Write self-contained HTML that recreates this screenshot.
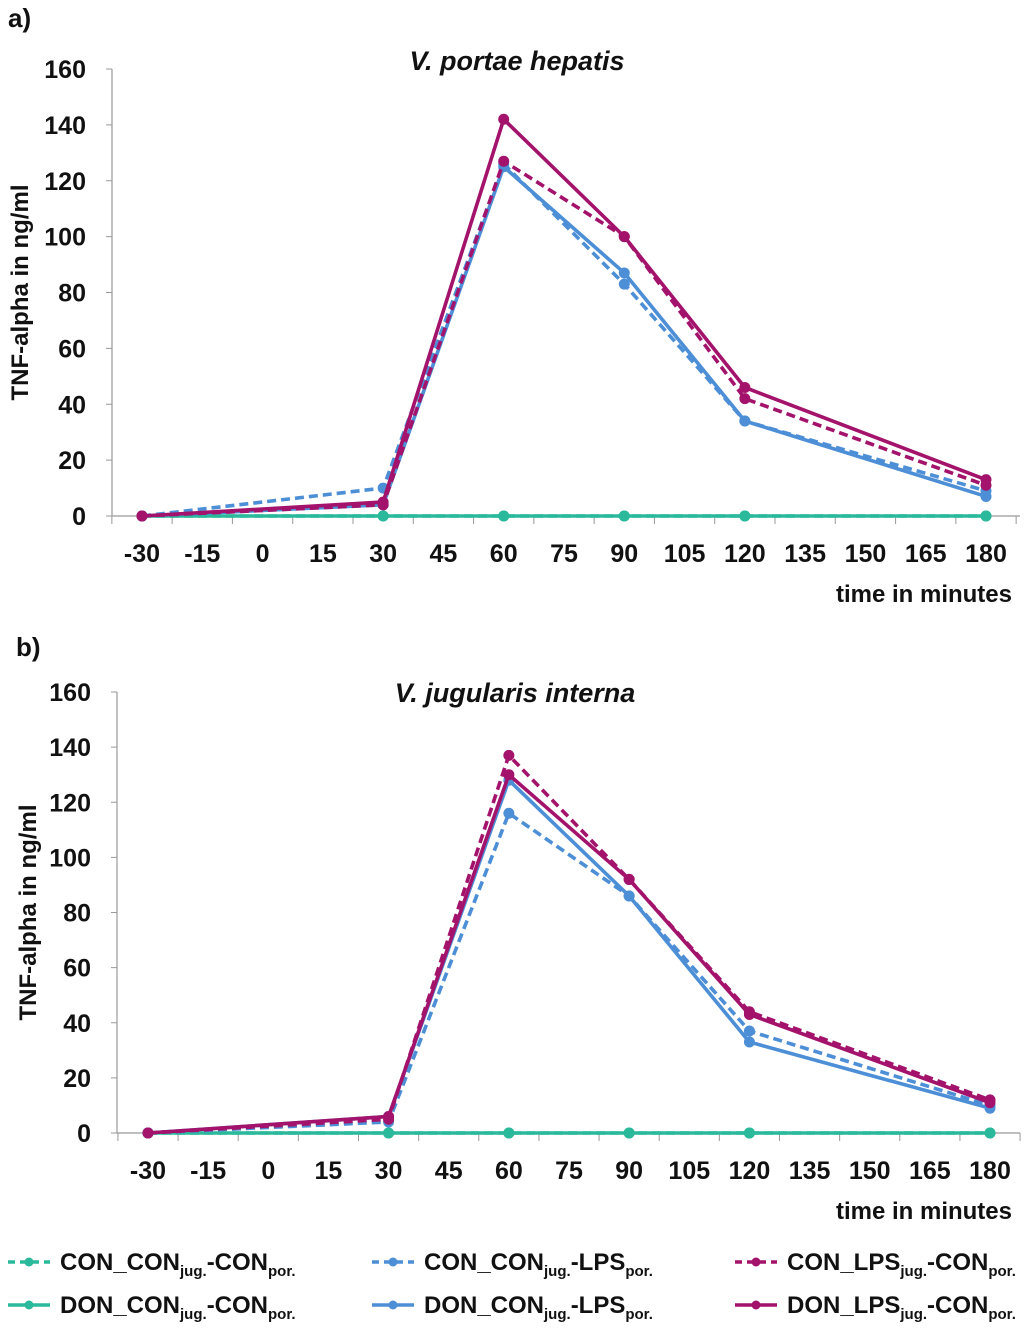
<!DOCTYPE html>
<html><head><meta charset="utf-8"><style>
html,body{margin:0;padding:0;background:#fff;}
svg{display:block;font-family:"Liberation Sans Narrow","Liberation Sans",sans-serif;}
</style></head><body>
<svg id="s" width="1024" height="1329" viewBox="0 0 1024 1329">
<text x="8" y="27" font-size="26" font-weight="bold" fill="#111">a)</text>
<text x="16" y="656" font-size="26" font-weight="bold" fill="#111">b)</text>
</svg>
<script>
const categories=[-30,-15,0,15,30,45,60,75,90,105,120,135,150,165,180];
const times=[-30,30,60,90,120,180];
const yTicks=[0,20,40,60,80,100,120,140,160];
const seriesNames=["CON_CON_CON","DON_CON_CON","CON_CON_LPS","DON_CON_LPS","CON_LPS_CON","DON_LPS_CON"];
const a_CON_CON_CON=[0,0,0,0,0,0];
const a_DON_CON_CON=[0,0,0,0,0,0];
const a_CON_CON_LPS=[0,10,126,83,34,9];
const a_DON_CON_LPS=[0,4,125,87,34,7];
const a_CON_LPS_CON=[0,4,127,100,42,11];
const a_DON_LPS_CON=[0,5,142,100,46,13];
const b_CON_CON_CON=[0,0,0,0,0,0];
const b_DON_CON_CON=[0,0,0,0,0,0];
const b_CON_CON_LPS=[0,4,116,86,37,10];
const b_DON_CON_LPS=[0,6,128,86,33,9];
const b_CON_LPS_CON=[0,5,137,92,44,12];
const b_DON_LPS_CON=[0,6,130,92,43,11];

const NS="http://www.w3.org/2000/svg";
const svg=document.getElementById('s');
const styles={CON_CON_CON:{c:"#2bb99b",d:true},DON_CON_CON:{c:"#2bb99b",d:false},CON_CON_LPS:{c:"#4d8fd6",d:true},DON_CON_LPS:{c:"#4d8fd6",d:false},CON_LPS_CON:{c:"#a3136c",d:true},DON_LPS_CON:{c:"#a3136c",d:false}};
function mk(tag,attrs,parent){const e=document.createElementNS(NS,tag);for(const k in attrs)e.setAttribute(k,attrs[k]);(parent||svg).appendChild(e);return e;}

function chart(p){
  const g=mk('g',{});
  
  
  const x0=p.axX, xEnd=p.xEnd;
  const step=(p.lastX-p.firstX)/14;
  const xs=v=>p.firstX+(categories.indexOf(v))*step;
  const ys=v=>p.y0-(v/160)*(p.y0-p.y160);
  let t=mk('text',{x:p.titleX,y:p.titleY,'font-size':27,'font-weight':'bold','font-style':'italic','text-anchor':'middle',fill:'#111'},g);
  t.textContent=p.title;
  
  
  let ax=mk('line',{x1:x0,y1:p.y160,x2:x0,y2:p.y0,stroke:'#999','stroke-width':1.2},g);
  
  
  yTicks.forEach(v=>{
    mk('line',{x1:x0-6,x2:x0,y1:ys(v),y2:ys(v),stroke:'#999'},g);
    const tx=mk('text',{x:x0-26,y:ys(v)+9,'font-size':25,'font-weight':'bold','text-anchor':'end',fill:'#111'},g);
    tx.textContent=v;
    
    
  });
  let xa=mk('line',{x1:x0,y1:p.y0,x2:xEnd,y2:p.y0,stroke:'#999','stroke-width':1.2},g);
  
  
  for(let i=0;i<=15;i++){const xx=p.firstX+(i-0.5)*step;mk('line',{x1:xx,x2:xx,y1:p.y0,y2:p.y0+8,stroke:'#999'},g);}
  categories.forEach(v=>{
    const tx=mk('text',{x:xs(v),y:p.y0+46,'font-size':25,'font-weight':'bold','text-anchor':'middle',fill:'#111'},g);
    tx.textContent=v;
    
    
  });
  let xt=mk('text',{x:1012,y:p.y0+86,'font-size':24,'font-weight':'bold','text-anchor':'end',fill:'#111'},g);
  xt.textContent='time in minutes';
  
  
  let yt=mk('text',{x:0,y:0,'font-size':24,'font-weight':'bold','text-anchor':'middle',fill:'#111',transform:`translate(${p.yTitleX},${(p.y0+p.y160)/2}) rotate(-90)`,'font-family':'"Liberation Sans",sans-serif'},g);
  yt.textContent='TNF-alpha in ng/ml';
  
  
  seriesNames.forEach(n=>{
    const vals=p.data[n], st=styles[n];
    const sg=mk('g',{},g);
    
    
    const pts=times.map((tm,i)=>xs(tm)+','+ys(vals[i])).join(' ');
    mk('polyline',{points:pts,fill:'none',stroke:st.c,'stroke-width':3.6,'stroke-dasharray':st.d?'9,5':'none','stroke-linejoin':'round'},sg);
    times.forEach((tm,i)=>{const c=mk('circle',{cx:xs(tm),cy:ys(vals[i]),r:5.5,fill:st.c},sg);
      
      });
  });
}
const A={CON_CON_CON:a_CON_CON_CON,DON_CON_CON:a_DON_CON_CON,CON_CON_LPS:a_CON_CON_LPS,DON_CON_LPS:a_DON_CON_LPS,CON_LPS_CON:a_CON_LPS_CON,DON_LPS_CON:a_DON_LPS_CON};
const B={CON_CON_CON:b_CON_CON_CON,DON_CON_CON:b_DON_CON_CON,CON_CON_LPS:b_CON_CON_LPS,DON_CON_LPS:b_DON_CON_LPS,CON_LPS_CON:b_CON_LPS_CON,DON_LPS_CON:b_DON_LPS_CON};
chart({name:'chart-portae-hepatis',title:'V. portae hepatis',titleX:517,titleY:70,axX:112,xEnd:1020,firstX:142,lastX:986,y0:516,y160:69,yTitleX:28,data:A});
chart({name:'chart-jugularis-interna',title:'V. jugularis interna',titleX:515,titleY:702,axX:117,xEnd:1020,firstX:148,lastX:990,y0:1133,y160:692,yTitleX:36,data:B});

const legend=[["CON_CON_CON","CON_CON","jug.","-CON","por.",8,1262],["CON_CON_LPS","CON_CON","jug.","-LPS","por.",372,1262],["CON_LPS_CON","CON_LPS","jug.","-CON","por.",735,1262],
["DON_CON_CON","DON_CON","jug.","-CON","por.",8,1305],["DON_CON_LPS","DON_CON","jug.","-LPS","por.",372,1305],["DON_LPS_CON","DON_LPS","jug.","-CON","por.",735,1305]];
legend.forEach(L=>{
  const st=styles[L[0]];
  const g=mk('g',{});
  
  
  mk('line',{x1:L[5],x2:L[5]+42,y1:L[6],y2:L[6],stroke:st.c,'stroke-width':3.4,'stroke-dasharray':st.d?'7,5':'none'},g);
  mk('circle',{cx:L[5]+21,cy:L[6],r:4.5,fill:st.c},g);
  const t=mk('text',{x:L[5]+52,y:L[6]+8,'font-size':24,'font-weight':'bold',fill:'#111'},g);
  t.innerHTML=`${L[1]}<tspan font-size="15" dy="6">${L[2]}</tspan><tspan dy="-6">${L[3]}</tspan><tspan font-size="15" dy="6">${L[4]}</tspan>`;
});
</script>
</body></html>
